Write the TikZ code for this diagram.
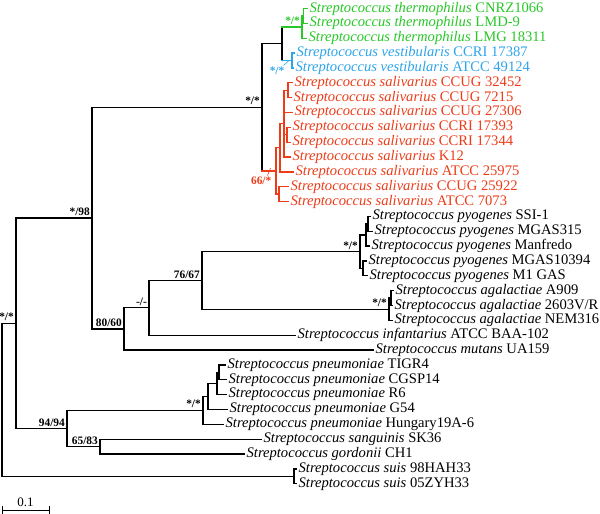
\documentclass[tikz,border=0pt]{standalone}
\usepackage{fontspec}
\setmainfont{Liberation Serif}
\definecolor{tgreen}{RGB}{40,200,40}
\definecolor{tblue}{RGB}{45,165,235}
\definecolor{tred}{RGB}{238,60,25}
\newcommand\tvr[4][black]{\draw[#1] (#2 |- #3) -- (#2 |- #4);}
\newcommand\tbr[3][black]{\draw[#1] (#2 |- #3) -- (#3);}
\newcommand\tleaf[5]{%
  \coordinate (#1t) at (#3-2, {8.5+14.85*#2});
  \node[leaflab, text=#4, anchor=west] (#1) at (#3, {8.5+14.85*#2}) {#5};}
\begin{document}
\begin{tikzpicture}[x=1pt,y=-1pt, line width=1.3pt, line cap=rect,
  leaflab/.style={inner sep=0pt, font=\fontsize{14.6}{16}\selectfont},
  bs/.style={inner sep=0pt, anchor=base east, font=\fontsize{11.4}{13}\selectfont\bfseries, xshift=-1.5pt, yshift=2.5pt}]
\fill[white] (0,0) rectangle (600,514);
\useasboundingbox (0,0) rectangle (600,514);
% leaves
\tleaf{l0}{0}{309}{tgreen}{\textit{Streptococcus thermophilus} CNRZ1066}
\tleaf{l1}{1}{309}{tgreen}{\textit{Streptococcus thermophilus} LMD-9}
\tleaf{l2}{2}{308}{tgreen}{\textit{Streptococcus thermophilus} LMG 18311}
\tleaf{l3}{3}{296}{tblue}{\textit{Streptococcus vestibularis} CCRI 17387}
\tleaf{l4}{4}{295}{tblue}{\textit{Streptococcus vestibularis} ATCC 49124}
\tleaf{l5}{5}{294}{tred}{\textit{Streptococcus salivarius} CCUG 32452}
\tleaf{l6}{6}{293}{tred}{\textit{Streptococcus salivarius} CCUG 7215}
\tleaf{l7}{7}{294}{tred}{\textit{Streptococcus salivarius} CCUG 27306}
\tleaf{l8}{8}{292}{tred}{\textit{Streptococcus salivarius} CCRI 17393}
\tleaf{l9}{9}{292}{tred}{\textit{Streptococcus salivarius} CCRI 17344}
\tleaf{l10}{10}{292}{tred}{\textit{Streptococcus salivarius} K12}
\tleaf{l11}{11}{295}{tred}{\textit{Streptococcus salivarius} ATCC 25975}
\tleaf{l12}{12}{290}{tred}{\textit{Streptococcus salivarius} CCUG 25922}
\tleaf{l13}{13}{290}{tred}{\textit{Streptococcus salivarius} ATCC 7073}
\tleaf{l14}{14}{372}{black}{\textit{Streptococcus pyogenes} SSI-1}
\tleaf{l15}{15}{374}{black}{\textit{Streptococcus pyogenes} MGAS315}
\tleaf{l16}{16}{371}{black}{\textit{Streptococcus pyogenes} Manfredo}
\tleaf{l17}{17}{368}{black}{\textit{Streptococcus pyogenes} MGAS10394}
\tleaf{l18}{18}{369}{black}{\textit{Streptococcus pyogenes} M1 GAS}
\tleaf{l19}{19}{395}{black}{\textit{Streptococcus agalactiae} A909}
\tleaf{l20}{20}{394}{black}{\textit{Streptococcus agalactiae} 2603V/R}
\tleaf{l21}{21}{394}{black}{\textit{Streptococcus agalactiae} NEM316}
\tleaf{l22}{22}{297}{black}{\textit{Streptococcus infantarius} ATCC BAA-102}
\tleaf{l23}{23}{375}{black}{\textit{Streptococcus mutans} UA159}
\tleaf{l24}{24}{227}{black}{\textit{Streptococcus pneumoniae} TIGR4}
\tleaf{l25}{25}{228}{black}{\textit{Streptococcus pneumoniae} CGSP14}
\tleaf{l26}{26}{228}{black}{\textit{Streptococcus pneumoniae} R6}
\tleaf{l27}{27}{229}{black}{\textit{Streptococcus pneumoniae} G54}
\tleaf{l28}{28}{225}{black}{\textit{Streptococcus pneumoniae} Hungary19A-6}
\tleaf{l29}{29}{263}{black}{\textit{Streptococcus sanguinis} SK36}
\tleaf{l30}{30}{246}{black}{\textit{Streptococcus gordonii} CH1}
\tleaf{l31}{31}{298}{black}{\textit{Streptococcus suis} 98HAH33}
\tleaf{l32}{32}{298}{black}{\textit{Streptococcus suis} 05ZYH33}
% internal nodes
\coordinate (G1) at (303.5,15.9);
\coordinate (G) at (302,27.05);
\coordinate (B) at (292,60.5);
\coordinate (TV) at (282,43.8);
\coordinate (P1r) at (288,90.2);
\coordinate (P3r) at (287,134.7);
\coordinate (V2) at (284,123.6);
\coordinate (V) at (280,147.7);
\coordinate (W) at (279,194.1);
\coordinate (R) at (276,170.9);
\coordinate (S) at (262,107.35);
\coordinate (Py1a) at (368,223.8);
\coordinate (Py1) at (366,235);
\coordinate (Py2) at (363,268.4);
\coordinate (Py) at (360,251.7);
\coordinate (Ag1) at (391,298.1);
\coordinate (Ag) at (389,309.2);
\coordinate (N76) at (202,280.5);
\coordinate (Nd) at (149,307.8);
\coordinate (N80) at (124,328.9);
\coordinate (NB) at (92,218.1);
\coordinate (P3) at (219,372.3);
\coordinate (P2) at (217,383.5);
\coordinate (P1) at (208,396.5);
\coordinate (P) at (203,410.4);
\coordinate (N65) at (100,446.6);
\coordinate (N94) at (67,428.5);
\coordinate (NA) at (16,323.3);
\coordinate (Su) at (294,476.3);
\coordinate (root) at (2,399.8);
% branches
\tvr{root}{NA}{Su} \tbr{root}{NA} \tbr{root}{Su}
\tvr{NA}{NB}{N94} \tbr{NA}{NB} \tbr{NA}{N94}
\tvr{NB}{S}{N80} \tbr{NB}{S} \tbr{NB}{N80}
\tvr{S}{TV}{R} \tbr{S}{TV} \tbr[tred]{S}{R}
\tvr{TV}{G}{B} \tbr[tgreen]{TV}{G} \tbr[tblue]{TV}{B}
\tvr[tgreen]{G}{G1}{l2t} \tbr[tgreen]{G}{G1} \tbr[tgreen]{G}{l2t}
\tvr[tgreen]{G1}{l0t}{l1t} \tbr[tgreen]{G1}{l0t} \tbr[tgreen]{G1}{l1t}
\tvr[tblue]{B}{l3t}{l4t} \tbr[tblue]{B}{l3t} \tbr[tblue]{B}{l4t}
\tvr[tred]{R}{V}{W} \tbr[tred]{R}{V} \tbr[tred]{R}{W}
\tvr[tred]{V}{V2}{l11t} \tbr[tred]{V}{V2} \tbr[tred]{V}{l11t}
\tvr[tred]{V2}{P1r}{l10t} \tbr[tred]{V2}{P1r} \tbr[tred]{V2}{l7t} \tbr[tred]{V2}{P3r} \tbr[tred]{V2}{l10t}
\tvr[tred]{P1r}{l5t}{l6t} \tbr[tred]{P1r}{l5t} \tbr[tred]{P1r}{l6t}
\tvr[tred]{P3r}{l8t}{l9t} \tbr[tred]{P3r}{l8t} \tbr[tred]{P3r}{l9t}
\tvr[tred]{W}{l12t}{l13t} \tbr[tred]{W}{l12t} \tbr[tred]{W}{l13t}
\tvr{N80}{Nd}{l23t} \tbr{N80}{Nd} \tbr{N80}{l23t}
\tvr{Nd}{N76}{l22t} \tbr{Nd}{N76} \tbr{Nd}{l22t}
\tvr{N76}{Py}{Ag} \tbr{N76}{Py} \tbr{N76}{Ag}
\tvr{Py}{Py1}{Py2} \tbr{Py}{Py1} \tbr{Py}{Py2}
\tvr{Py1}{Py1a}{l16t} \tbr{Py1}{Py1a} \tbr{Py1}{l16t}
\tvr{Py1a}{l14t}{l15t} \tbr{Py1a}{l14t} \tbr{Py1a}{l15t}
\tvr{Py2}{l17t}{l18t} \tbr{Py2}{l17t} \tbr{Py2}{l18t}
\tvr{Ag}{Ag1}{l21t} \tbr{Ag}{Ag1} \tbr{Ag}{l21t}
\tvr{Ag1}{l19t}{l20t} \tbr{Ag1}{l19t} \tbr{Ag1}{l20t}
\tvr{N94}{P}{N65} \tbr{N94}{P} \tbr{N94}{N65}
\tvr{P}{P1}{l28t} \tbr{P}{P1} \tbr{P}{l28t}
\tvr{P1}{P2}{l27t} \tbr{P1}{P2} \tbr{P1}{l27t}
\tvr{P2}{P3}{l26t} \tbr{P2}{P3} \tbr{P2}{l26t}
\tvr{P3}{l24t}{l25t} \tbr{P3}{l24t} \tbr{P3}{l25t}
\tvr{N65}{l29t}{l30t} \tbr{N65}{l29t} \tbr{N65}{l30t}
\tvr{Su}{l31t}{l32t} \tbr{Su}{l31t} \tbr{Su}{l32t}
% support values
\node[bs] (bNA) at (NA) {*/*};
\node[bs] (bNB) at (NB) {*/98};
\node[bs] (bS) at (S) {*/*};
\node[bs, text=tgreen] (bG) at (G) {*/*};
\node[bs] (bPy) at (Py) {*/*};
\node[bs] (bAg) at (Ag) {*/*};
\node[bs] (bN76) at (N76) {76/67};
\node[bs] (bNd) at (Nd) {-/-};
\node[bs] (bN80) at (N80) {80/60};
\node[bs] (bP) at (P) {*/*};
\node[bs] (bN94) at (N94) {94/94};
\node[bs] (bN65) at (N65) {65/83};
\node[inner sep=0pt, anchor=north east, font=\fontsize{11.4}{13}\selectfont\bfseries, text=tblue] (bB) at (285,66) {*/*};
\draw[tblue, line width=0.6pt, line cap=butt] (283.5,65.5) -- (289,60.5);
\node[inner sep=0pt, anchor=north east, font=\fontsize{11.4}{13}\selectfont\bfseries, text=tred] (bR) at (272,176) {66/*};
\draw[tred, line width=0.6pt, line cap=butt] (267.5,175.5) -- (270.5,168);
% scale bar
\coordinate (sbL) at (2,510);
\coordinate (sbR) at (49,510);
\draw[line width=1pt] (sbL) -- (sbR);
\draw[line width=1pt] ([yshift=3.5pt]sbL) -- ([yshift=-3pt]sbL);
\draw[line width=1pt] ([yshift=3.5pt]sbR) -- ([yshift=-3pt]sbR);
\node[inner sep=0pt, anchor=base, font=\fontsize{13}{15}\selectfont] (sbT) at (25.5,506) {0.1};
\end{tikzpicture}
\end{document}
